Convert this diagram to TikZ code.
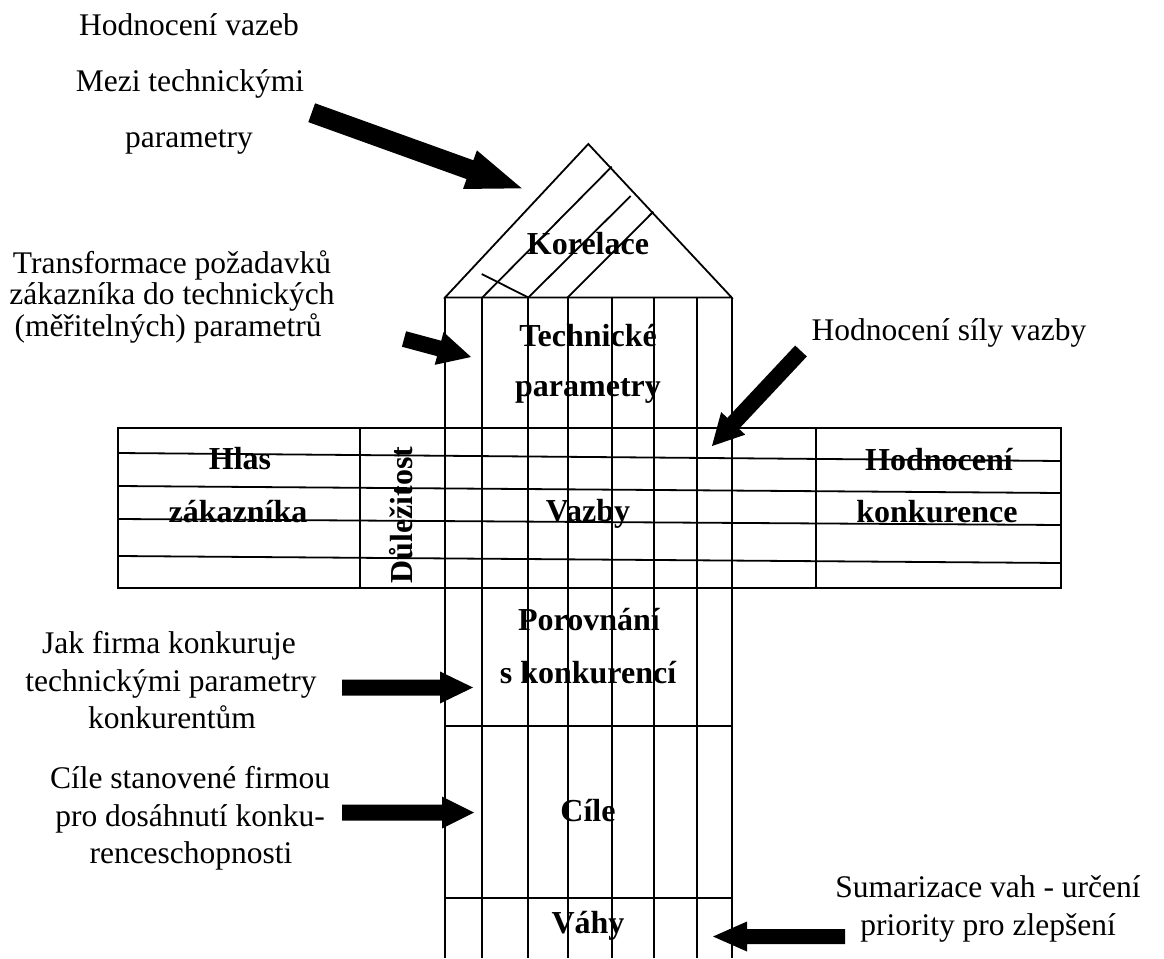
\documentclass[tikz,border=0pt]{standalone}
\usepackage{fontspec}
\setmainfont{Liberation Serif}
\usetikzlibrary{calc}

% Filled block arrow: #1 name prefix, #2 shaft half-width, #3 head half-width, #4 head length.
% Expects coordinates (#1-tail) and (#1-tip).
\newcommand\qfdarrow[4]{%
  \coordinate (#1-base) at ($(#1-tip)!#4!(#1-tail)$);
  \fill ($(#1-tail)!#2!90:(#1-tip)$) -- ($(#1-base)!#2!90:(#1-tip)$)
     -- ($(#1-base)!#3!90:(#1-tip)$) -- (#1-tip)
     -- ($(#1-base)!#3!-90:(#1-tip)$) -- ($(#1-base)!#2!-90:(#1-tip)$)
     -- ($(#1-tail)!#2!-90:(#1-tip)$) -- cycle;
}

\begin{document}
\begin{tikzpicture}[x=1pt,y=-1pt,
  grid/.style={line width=1.8pt},
  note/.style={font=\fontsize{31.5}{38}\selectfont, inner sep=0pt, anchor=base},
  cell/.style={font=\fontsize{32}{38}\selectfont\bfseries, inner sep=0pt, anchor=base}]
\useasboundingbox (0,0) rectangle (1164,958);

% roof (correlation matrix)
\draw[grid] (445,297.5) -- (588.3,144) -- (731.7,297.5) -- cycle;
\draw[grid] (482.3,297.5) -- (611.7,166.7);
\draw[grid] (528.3,297.5) -- (630.7,196);
\draw[grid] (567.7,297.5) -- (653.3,211.7);
\draw[grid] (481.7,274) -- (528.3,297.5);

% columns of the house
\foreach \x in {445,482,528,568,612,654,697,732}
  \draw[grid] (\x,297.5) -- (\x,958);
\draw[grid] (445,726) -- (732,726);
\draw[grid] (445,898) -- (732,898);

% horizontal band: customer voice, relations, competition
\draw[grid] (118,428) rectangle (1061,588);
\draw[grid] (360,428) -- (360,588);
\draw[grid] (816,428) -- (816,588);
\draw[grid] (118,453) -- (1061,461);
\draw[grid] (118,486) -- (1061,493);
\draw[grid] (118,519) -- (1061,525);
\draw[grid] (118,556) -- (1061,563);

% labels inside the house
\node[cell] (korelace) at (588,254) {Korelace};
\node[cell] (tech1) at (588,346) {Technické};
\node[cell] (tech2) at (588,396) {parametry};
\node[cell] (hlas1) at (240,469) {Hlas};
\node[cell] (hlas2) at (238,522) {zákazníka};
\node[cell, rotate=90] (dulez) at (412,515) {Důležitost};
\node[cell] (vazby) at (588,521) {Vazby};
\node[cell] (hodk1) at (939,470) {Hodnocení};
\node[cell] (hodk2) at (937,522) {konkurence};
\node[cell] (por1) at (589,630) {Porovnání};
\node[cell] (por2) at (588,683) {s konkurencí};
\node[cell] (cile) at (588,821) {Cíle};
\node[cell] (vahy) at (588,933) {Váhy};

% explanatory notes
\node[note] (n1a) at (189,36) {Hodnocení vazeb};
\node[note] (n1b) at (190,91) {Mezi technickými};
\node[note] (n1c) at (189,147) {parametry};

\node[note] (n2a) at (172,273) {Transformace požadavků};
\node[note] (n2b) at (172,304.5) {zákazníka do technických};
\node[note] (n2c) at (168,336) {(měřitelných) parametrů};

\node[note] (n3) at (949,340) {Hodnocení síly vazby};

\node[note] (n4a) at (169,653) {Jak firma konkuruje};
\node[note] (n4b) at (171,691) {technickými parametry};
\node[note] (n4c) at (172,728) {konkurentům};

\node[note] (n5a) at (190,788) {Cíle stanovené firmou};
\node[note] (n5b) at (190,826) {pro dosáhnutí konku-};
\node[note] (n5c) at (191,863) {renceschopnosti};

\node[note] (n6a) at (988,897) {Sumarizace vah - určení};
\node[note] (n6b) at (988,935) {priority pro zlepšení};

% pointer arrows
\coordinate (a1-tail) at (311.7,112.7);
\coordinate (a1-tip) at (521.7,188.3);
\qfdarrow{a1}{10pt}{20.5pt}{55pt}

\coordinate (a2-tail) at (404,339);
\coordinate (a2-tip) at (471,357);
\qfdarrow{a2}{8pt}{17pt}{33pt}

\coordinate (a3-tail) at (801,351);
\coordinate (a3-tip) at (712,446);
\qfdarrow{a3}{8pt}{16.5pt}{31pt}

\coordinate (a4-tail) at (342,687.5);
\coordinate (a4-tip) at (473,687.5);
\qfdarrow{a4}{8pt}{16pt}{33pt}

\coordinate (a5-tail) at (342,812.5);
\coordinate (a5-tip) at (474,812.5);
\qfdarrow{a5}{8pt}{16pt}{32pt}

\coordinate (a6-tail) at (845,936.5);
\coordinate (a6-tip) at (713,936.5);
\qfdarrow{a6}{7.5pt}{15pt}{34pt}
\end{tikzpicture}
\end{document}
